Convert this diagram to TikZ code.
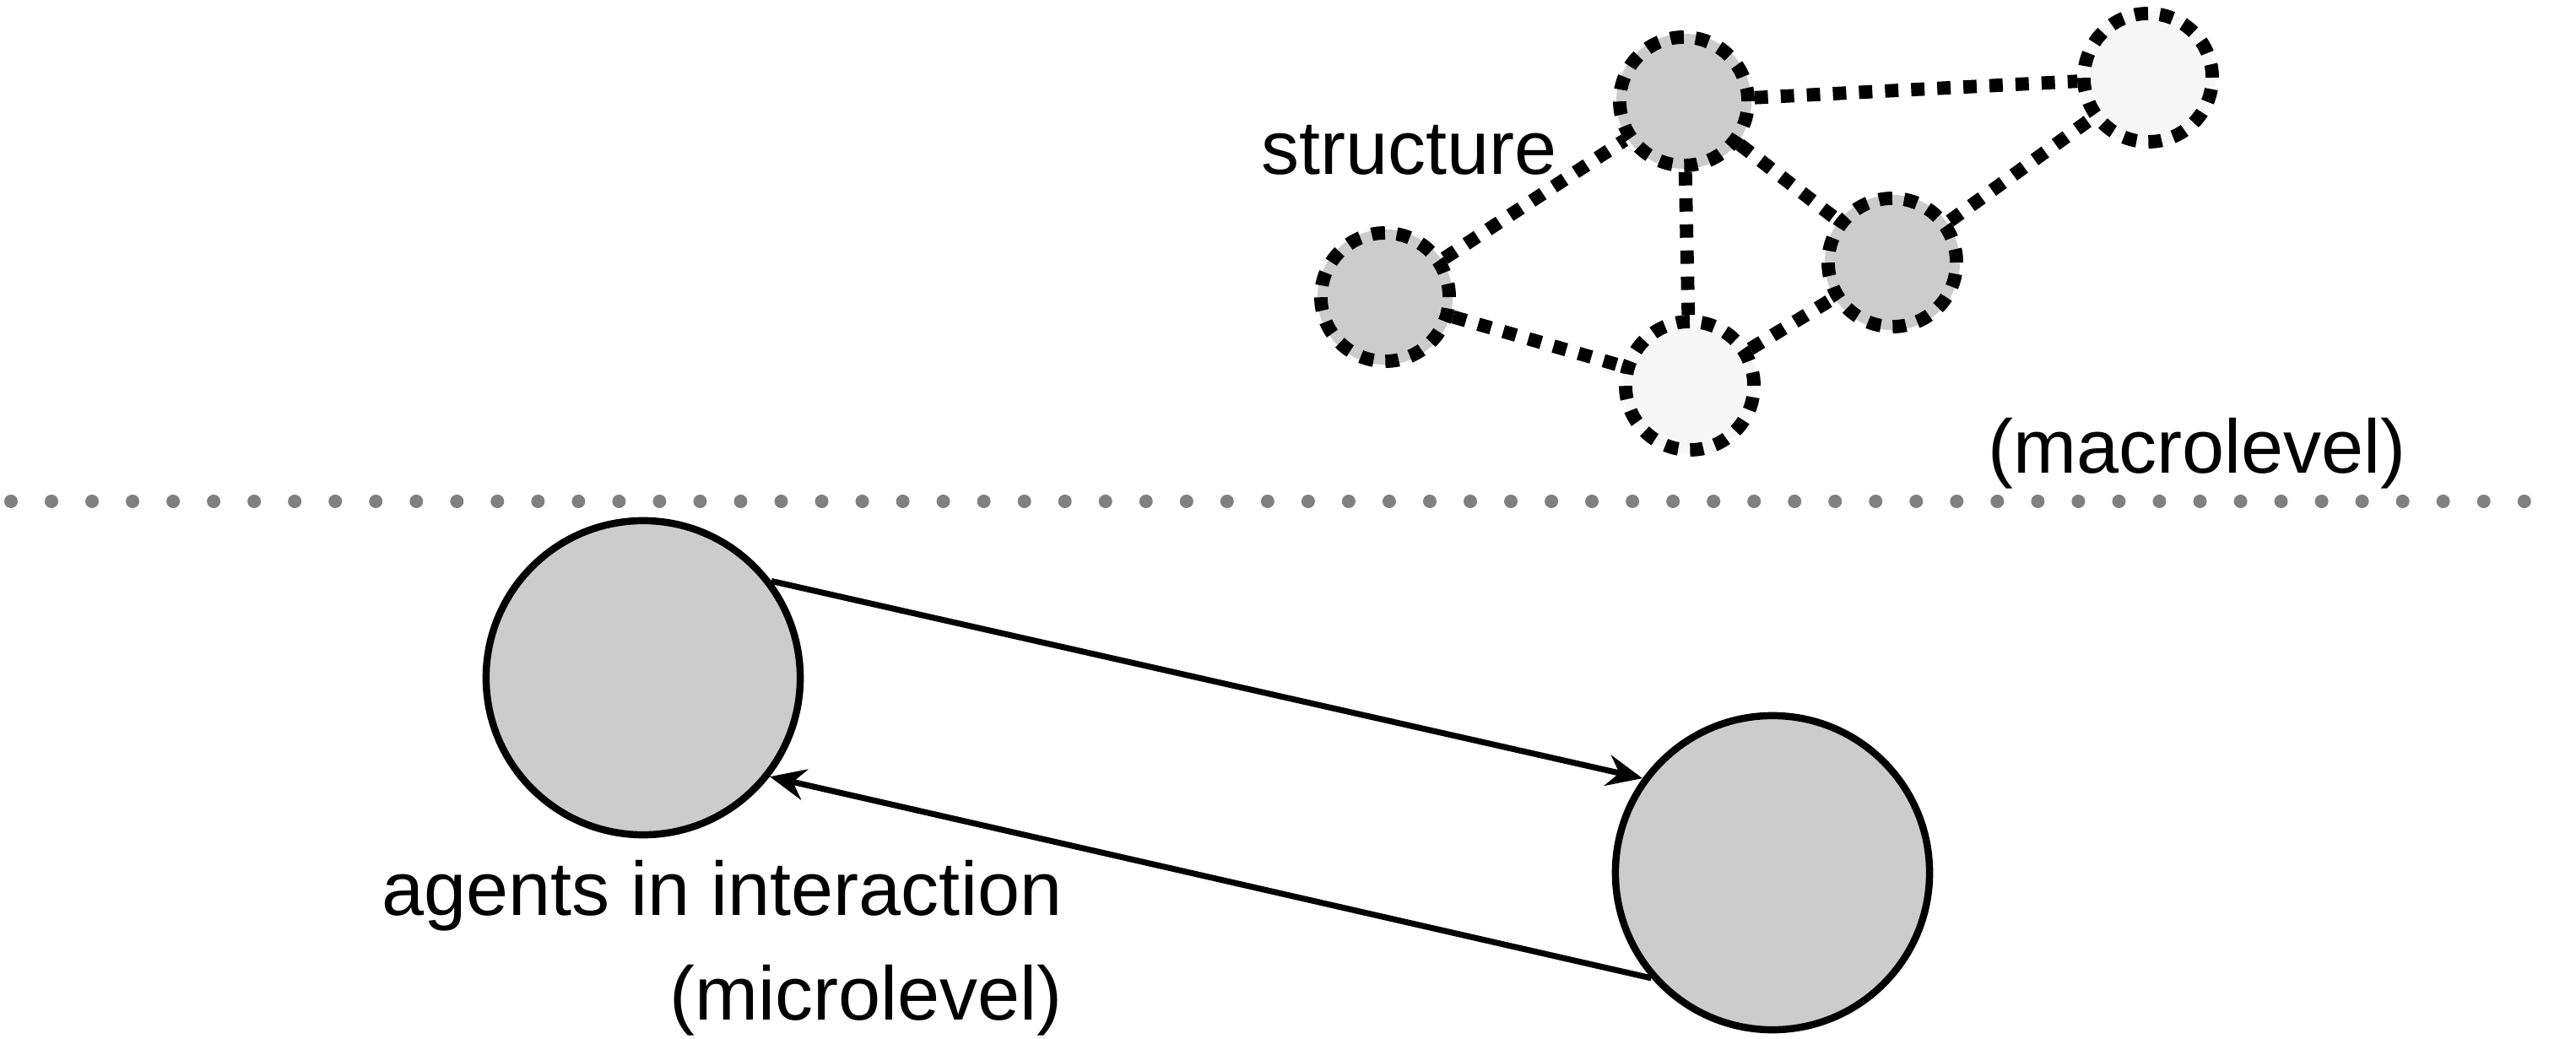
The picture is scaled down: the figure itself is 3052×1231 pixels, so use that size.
\documentclass[tikz,border=0pt]{standalone}
\usepackage{fontspec}
\setmainfont{Liberation Sans}
\usetikzlibrary{arrows.meta}
\definecolor{agentgray}{HTML}{CCCCCC}
\definecolor{lightfill}{HTML}{F7F7F7}
\definecolor{dotgray}{HTML}{808080}
\begin{document}
\begin{tikzpicture}[x=0.01cm,y=-0.01cm,
  agent/.style={circle, draw=black, line width=2.4pt, fill=agentgray, minimum size=3.72cm, inner sep=0pt},
  netnode/.style={circle, minimum size=1.52cm, inner sep=0pt, draw=black, fill=#1,
     line width=4.5pt, dash pattern=on 4.5pt off 4pt,
     preaction={draw=#1, solid, line width=2.3pt}},
  netedge/.style={draw=black, line width=4.5pt, dash pattern=on 4.5pt off 4.3pt},
  link/.style={line width=2pt, -{Stealth[length=12pt,width=10.5pt,inset=4pt]}},
  lbl/.style={inner sep=0pt, font=\fontsize{25.6}{30}\selectfont},
  sep/.style={dotgray, line width=0.16cm, line cap=round, dash pattern=on 0pt off 0.48cm}
]
\useasboundingbox (0,0) rectangle (3052,1231);

% separator
\coordinate (sepL) at (13,594);
\coordinate (sepR) at (3037,594);
\draw[sep] (sepL) -- (sepR);

% network (macrolevel)
\node[netnode=agentgray] (A) at (1641,352) {};
\node[netnode=agentgray] (B) at (1995,120) {};
\node[netnode=lightfill] (C) at (2002,457) {};
\node[netnode=agentgray] (D) at (2242,311) {};
\node[netnode=lightfill] (E) at (2545,92) {};
\draw[netedge] (A) -- (B);
\draw[netedge] (A) -- (C);
\draw[netedge] (B) -- (C);
\draw[netedge] (B) -- (D);
\draw[netedge] (B) -- (E);
\draw[netedge] (C) -- (D);
\draw[netedge] (D) -- (E);

% agents (microlevel)
\node[agent] (c1) at (762,803) {};
\node[agent] (c2) at (2100,1034) {};
\draw[link] (c1.37) -- (c2.144);
\draw[link] (c2.221) -- (c1.-38);

% labels
\node[lbl, anchor=base east] (structure) at (1845,207) {structure};
\node[lbl, anchor=base east] (macro) at (2851,561) {(macrolevel)};
\node[lbl, anchor=base east] (agents) at (1259,1084) {agents in interaction};
\node[lbl, anchor=base east] (micro) at (1259,1208) {(microlevel)};
\end{tikzpicture}
\end{document}
